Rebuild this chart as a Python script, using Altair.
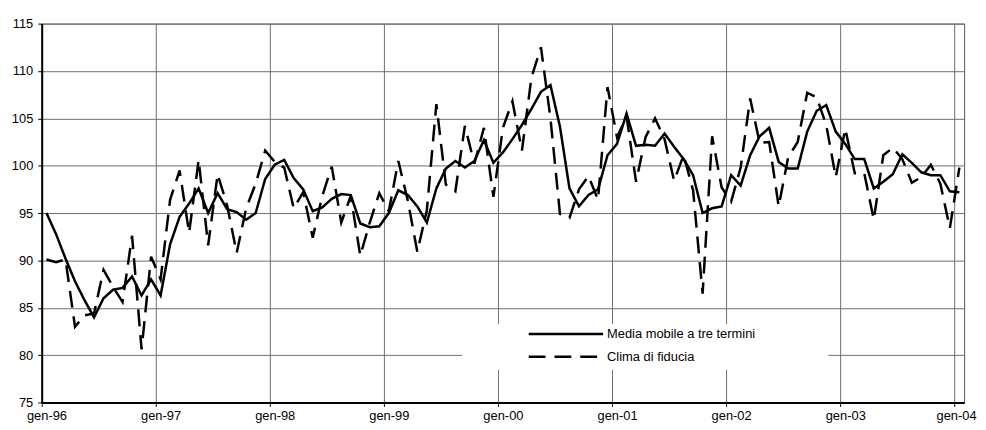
import altair as alt
import pandas as pd

year_labels = ["gen-96", "gen-97", "gen-98", "gen-99", "gen-00",
               "gen-01", "gen-02", "gen-03", "gen-04"]

y_ticks = [75, 80, 85, 90, 95, 100, 105, 110, 115]

# Media mobile a tre termini (monthly, gen-96 .. gen-04)
media_mobile = [
    95.0, 92.8, 90.2, 87.8, 85.8, 84.0, 86.0, 86.9, 87.1, 88.3, 86.3, 88.0,
    86.3, 91.7, 94.6, 96.0, 97.6, 95.0, 97.1, 95.4, 95.1, 94.3, 95.0, 98.6,
    100.1, 100.6, 98.7, 97.5, 95.2, 95.6, 96.5, 97.0, 96.9, 93.9, 93.5, 93.6,
    95.0, 97.4, 96.9, 95.7, 94.0, 97.6, 99.7, 100.5, 99.8, 100.5, 102.7, 100.3,
    101.4, 102.8, 104.3, 106.0, 107.8, 108.5, 104.1, 97.6, 95.7, 96.9, 97.5, 101.1,
    102.3, 105.5, 102.1, 102.2, 102.1, 103.4, 102.0, 100.7, 99.0, 95.0, 95.5, 95.7,
    99.0, 97.9, 101.1, 103.1, 104.0, 100.4, 99.7, 99.7, 103.6, 105.8, 106.4, 103.6,
    102.3, 100.7, 100.7, 97.6, 98.3, 99.1, 101.2, 100.3, 99.3, 99.0, 99.0, 97.3,
    97.2,
]

# Clima di fiducia (monthly, gen-96 .. gen-04)
clima_fiducia = [
    90.1, 89.8, 90.1, 83.0, 84.2, 84.4, 89.0, 87.2, 85.6, 92.6, 80.6, 90.4,
    88.0, 96.4, 99.5, 92.9, 100.6, 91.6, 99.1, 95.8, 90.8, 95.5, 98.1, 101.6,
    100.4, 99.8, 95.5, 97.2, 92.4, 96.8, 99.9, 94.0, 96.8, 90.5, 94.0, 97.1,
    95.2, 100.5, 96.3, 90.9, 95.3, 106.5, 98.0, 97.3, 104.2, 100.2, 104.0, 96.7,
    104.0, 106.8, 101.6, 109.3, 112.5, 105.0, 94.9, 94.5, 97.5, 98.9, 96.4, 108.3,
    103.0, 105.2, 98.3, 103.0, 105.0, 102.8, 98.4, 101.1, 97.4, 86.5, 103.1, 97.7,
    96.2, 99.8, 107.1, 102.4, 102.5, 95.7, 100.9, 102.5, 107.7, 107.2, 104.3, 98.8,
    103.9, 99.2, 99.2, 94.3, 101.1, 101.9, 100.7, 98.2, 98.8, 100.1, 98.1, 93.4,
    99.8,
]

legend_labels = ["Media mobile a tre termini", "Clima di fiducia"]

months = list(range(len(clima_fiducia)))
df_mm = pd.DataFrame({"m": months, "v": media_mobile})
df_cf = pd.DataFrame({"m": months, "v": clima_fiducia})

FONT = "Liberation Sans"
DASH = [17, 9]
GRID = "#6e6e6e"

label_array = "[" + ",".join("'" + s + "'" for s in year_labels) + "]"
x_axis = alt.Axis(
    values=[-0.5 + 12 * k for k in range(len(year_labels))],
    labelExpr=label_array + "[round((datum.value + 0.5) / 12)]",
    labelOffset={"condition": {"test": "datum.value > 90", "value": 1.5}, "value": 4.8},
    title=None,
    grid=True, gridColor=GRID, gridWidth=1,
    tickColor="black", tickSize=4, tickWidth=1,
    domainColor="black", domainWidth=2,
    labelFont=FONT, labelFontSize=13, labelColor="black",
    labelPadding=3, labelFlush=False, labelOverlap=False,
)
y_axis = alt.Axis(
    values=y_ticks,
    title=None,
    grid=True, gridColor=GRID, gridWidth=1,
    tickColor="black", tickSize=4, tickWidth=1,
    domainColor="black", domainWidth=2,
    labelFont=FONT, labelFontSize=13, labelColor="black",
    labelPadding=5, labelOverlap=False,
)

xs = alt.Scale(domain=[-0.5, 96.5], nice=False, zero=False)
ys = alt.Scale(domain=[75, 115], nice=False, zero=False)

solid = alt.Chart(df_mm).mark_line(color="black", strokeWidth=2.5).encode(
    x=alt.X("m:Q", scale=xs, axis=x_axis),
    y=alt.Y("v:Q", scale=ys, axis=y_axis),
)
dashed = alt.Chart(df_cf).mark_line(color="black", strokeWidth=2.5, strokeDash=DASH).encode(
    x=alt.X("m:Q", scale=xs),
    y=alt.Y("v:Q", scale=ys),
)

one = pd.DataFrame({"a": [0]})
leg_box = alt.Chart(one).mark_rect(color="white").encode(
    x=alt.value(424), x2=alt.value(793), y=alt.value(303), y2=alt.value(349)
)
leg_solid = alt.Chart(one).mark_rule(color="black", strokeWidth=2.5).encode(
    x=alt.value(491), x2=alt.value(566), y=alt.value(313)
)
leg_dash = alt.Chart(one).mark_rule(color="black", strokeWidth=2.5, strokeDash=DASH).encode(
    x=alt.value(491), x2=alt.value(566), y=alt.value(336)
)
leg_t1 = alt.Chart(one).mark_text(align="left", baseline="middle", font=FONT,
                                  fontSize=13, color="black").encode(
    x=alt.value(570), y=alt.value(313), text=alt.value(legend_labels[0])
)
leg_t2 = alt.Chart(one).mark_text(align="left", baseline="middle", font=FONT,
                                  fontSize=13, color="black").encode(
    x=alt.value(570), y=alt.value(336), text=alt.value(legend_labels[1])
)

chart = alt.layer(solid, dashed, leg_box, leg_solid, leg_dash, leg_t1, leg_t2).properties(
    width=930, height=382,
    padding={"left": 34, "top": 14, "right": 14, "bottom": 24},
    autosize=alt.AutoSizeParams(type="none"),
    background="white",
).configure_view(stroke="#555555", strokeWidth=1)

chart.save("out.html", embed_options={"renderer": "svg", "actions": False})
